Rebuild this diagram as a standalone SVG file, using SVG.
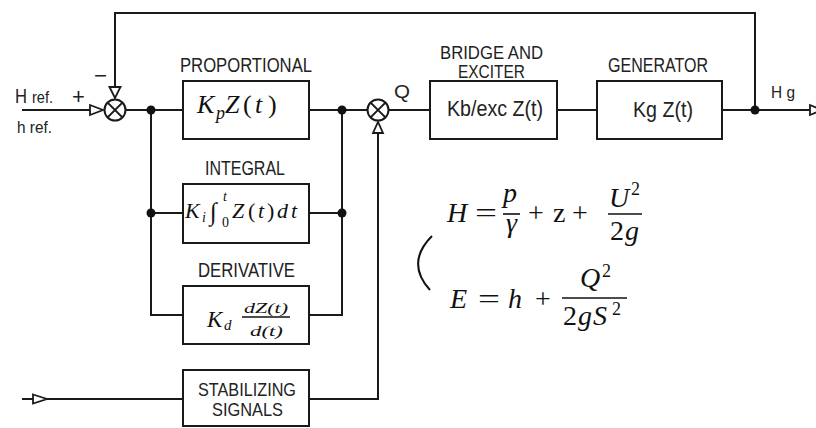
<svg xmlns="http://www.w3.org/2000/svg" width="816" height="428" viewBox="0 0 816 428">
<style>
.ln{fill:none;stroke:#1a1a1a;stroke-width:2}
.box{fill:#fff;stroke:#1a1a1a;stroke-width:2}
.arr{fill:#fff;stroke:#1a1a1a;stroke-width:1.8;stroke-linejoin:miter}
.dot{fill:#111}
.lbl{font-family:"Liberation Sans",Arial,sans-serif;fill:#222}
.m{font-family:"Liberation Serif","Times New Roman",serif;fill:#111}
.mi{font-family:"Liberation Serif","Times New Roman",serif;font-style:italic;fill:#111}
.bar{stroke:#111;stroke-width:1.6}
</style>
<rect width="816" height="428" fill="#fff"/>

<g id="connectors">
  <path class="ln" d="M22,110 H90"/>
  <path class="ln" d="M755,110 V13 H115 V87"/>
  <path class="ln" d="M126,110 H183"/>
  <path class="ln" d="M151,110 V315 H183"/>
  <path class="ln" d="M151,213 H183"/>
  <path class="ln" d="M309,110 H367"/>
  <path class="ln" d="M309,213 H342"/>
  <path class="ln" d="M309,315 H342 V110"/>
  <path class="ln" d="M389,110 H430"/>
  <path class="ln" d="M557,110 H597"/>
  <path class="ln" d="M722,110 H810"/>
  <path class="ln" d="M22,399 H33"/>
  <path class="ln" d="M47,399 H183"/>
  <path class="ln" d="M309,399 H378 V133"/>
  <polygon class="arr" points="90,105 103,110 90,115"/>
  <polygon class="arr" points="109.5,87 115,98 120.5,87"/>
  <polygon class="arr" points="373,133 378,122 383,133"/>
  <polygon class="arr" points="810,105 822,110 810,115"/>
  <polygon class="arr" points="33,394.5 47,399 33,403.5"/>
  <circle class="dot" cx="151" cy="110" r="4.5"/>
  <circle class="dot" cx="151" cy="213" r="4.5"/>
  <circle class="dot" cx="342" cy="110" r="4.5"/>
  <circle class="dot" cx="342" cy="213" r="4.5"/>
  <circle class="dot" cx="755" cy="110" r="4.5"/>
</g>

<g id="sum1">
  <circle class="box" cx="115" cy="110" r="10.5"/>
  <path class="ln" d="M107.6,102.6 L122.4,117.4 M122.4,102.6 L107.6,117.4"/>
  <text class="lbl" x="72" y="104" font-size="22">+</text>
  <text class="lbl" x="94" y="83" font-size="22" textLength="13" lengthAdjust="spacingAndGlyphs">−</text>
</g>

<g id="sum2">
  <circle class="box" cx="378" cy="110" r="10.5"/>
  <path class="ln" d="M370.6,102.6 L385.4,117.4 M385.4,102.6 L370.6,117.4"/>
  <text class="lbl" x="394" y="98" font-size="19" textLength="16" lengthAdjust="spacingAndGlyphs">Q</text>
</g>

<g id="input">
  <text class="lbl" x="15" y="103" font-size="21" textLength="12" lengthAdjust="spacingAndGlyphs">H</text>
  <text class="lbl" x="32" y="103" font-size="16" textLength="21" lengthAdjust="spacingAndGlyphs">ref.</text>
  <text class="lbl" x="17" y="133" font-size="16" textLength="35" lengthAdjust="spacingAndGlyphs">h ref.</text>
</g>

<g id="proportional">
  <text class="lbl" x="180" y="71.5" font-size="20.5" textLength="132" lengthAdjust="spacingAndGlyphs">PROPORTIONAL</text>
  <rect class="box" x="183" y="81" width="126" height="58"/>
  <text class="mi" x="197" y="113" font-size="26">K</text>
  <text class="mi" x="216" y="119" font-size="18">p</text>
  <text class="mi" x="225" y="113" font-size="26">Z</text>
  <text class="m" x="243" y="113" font-size="26">(</text>
  <text class="mi" x="255" y="113" font-size="26">t</text>
  <text class="m" x="268" y="113" font-size="26">)</text>
</g>

<g id="integral">
  <text class="lbl" x="205" y="175" font-size="19.5" textLength="80" lengthAdjust="spacingAndGlyphs">INTEGRAL</text>
  <rect class="box" x="183" y="184" width="126" height="59"/>
  <text class="mi" x="185" y="218" font-size="22">K</text>
  <text class="mi" x="202" y="222" font-size="14">i</text>
  <text class="m" x="210" y="220" font-size="25">∫</text>
  <text class="mi" x="223" y="201" font-size="14">t</text>
  <text class="m" x="222" y="227" font-size="14">0</text>
  <text class="mi" x="232" y="218" font-size="22">Z</text>
  <text class="m" x="248" y="218" font-size="22">(</text>
  <text class="mi" x="258" y="218" font-size="22">t</text>
  <text class="m" x="267" y="218" font-size="22">)</text>
  <text class="mi" x="277" y="218" font-size="22">d</text>
  <text class="mi" x="291" y="218" font-size="22">t</text>
</g>

<g id="derivative">
  <text class="lbl" x="198" y="277" font-size="19.5" textLength="97" lengthAdjust="spacingAndGlyphs">DERIVATIVE</text>
  <rect class="box" x="183" y="286" width="126" height="58"/>
  <text class="mi" x="207" y="327" font-size="23">K</text>
  <text class="mi" x="224" y="330" font-size="15">d</text>
  <line class="bar" x1="242" y1="317" x2="290" y2="317"/>
  <text class="mi" x="244" y="313" font-size="15" textLength="44" lengthAdjust="spacingAndGlyphs">dZ(t)</text>
  <text class="mi" x="250" y="336" font-size="15" textLength="33" lengthAdjust="spacingAndGlyphs">d(t)</text>
</g>

<g id="stabilizing">
  <rect class="box" x="183" y="370" width="126" height="56"/>
  <text class="lbl" x="198" y="395.5" font-size="18" textLength="98" lengthAdjust="spacingAndGlyphs">STABILIZING</text>
  <text class="lbl" x="212" y="415.5" font-size="18" textLength="71" lengthAdjust="spacingAndGlyphs">SIGNALS</text>
</g>

<g id="bridge">
  <text class="lbl" x="440" y="58.5" font-size="18" textLength="103" lengthAdjust="spacingAndGlyphs">BRIDGE  AND</text>
  <text class="lbl" x="458" y="77.5" font-size="18" textLength="67" lengthAdjust="spacingAndGlyphs">EXCITER</text>
  <rect class="box" x="430" y="81" width="127" height="58"/>
  <text class="lbl" x="447" y="116" font-size="22" textLength="96" lengthAdjust="spacingAndGlyphs">Kb/exc Z(t)</text>
</g>

<g id="generator">
  <text class="lbl" x="608" y="71.5" font-size="19.5" textLength="100" lengthAdjust="spacingAndGlyphs">GENERATOR</text>
  <rect class="box" x="597" y="81" width="125" height="58"/>
  <text class="lbl" x="633" y="117" font-size="22" textLength="60" lengthAdjust="spacingAndGlyphs">Kg Z(t)</text>
</g>

<g id="output">
  <text class="lbl" x="771" y="98" font-size="17" textLength="24" lengthAdjust="spacingAndGlyphs">H g</text>
</g>

<g id="equations">
  <path d="M432,236 C418,250 410,268 430,290" fill="none" stroke="#111" stroke-width="2"/>
  <text class="mi" x="447" y="222" font-size="28">H</text>
  <text class="m" x="475" y="222" font-size="28" textLength="22" lengthAdjust="spacingAndGlyphs">=</text>
  <line class="bar" x1="503" y1="214" x2="520" y2="214"/>
  <text class="mi" x="503" y="202" font-size="28">p</text>
  <text class="mi" x="506" y="232" font-size="28">γ</text>
  <text class="m" x="528" y="222" font-size="28">+</text>
  <text class="m" x="553" y="222" font-size="28">z</text>
  <text class="m" x="572" y="222" font-size="28">+</text>
  <line class="bar" x1="608" y1="214" x2="642" y2="214"/>
  <text class="mi" x="609" y="207" font-size="28">U</text>
  <text class="m" x="631" y="195" font-size="18">2</text>
  <text class="m" x="610" y="240" font-size="28">2</text>
  <text class="mi" x="625" y="240" font-size="28">g</text>

  <text class="mi" x="450" y="308" font-size="28">E</text>
  <text class="m" x="478" y="308" font-size="28" textLength="22" lengthAdjust="spacingAndGlyphs">=</text>
  <text class="mi" x="508" y="308" font-size="28">h</text>
  <text class="m" x="535" y="308" font-size="28">+</text>
  <line class="bar" x1="562" y1="298" x2="627" y2="298"/>
  <text class="mi" x="580" y="287" font-size="28">Q</text>
  <text class="m" x="602" y="277" font-size="18">2</text>
  <text class="m" x="563" y="325" font-size="28">2</text>
  <text class="mi" x="578" y="325" font-size="28">g</text>
  <text class="mi" x="593" y="325" font-size="28">S</text>
  <text class="m" x="612" y="315" font-size="18">2</text>
</g>
</svg>
